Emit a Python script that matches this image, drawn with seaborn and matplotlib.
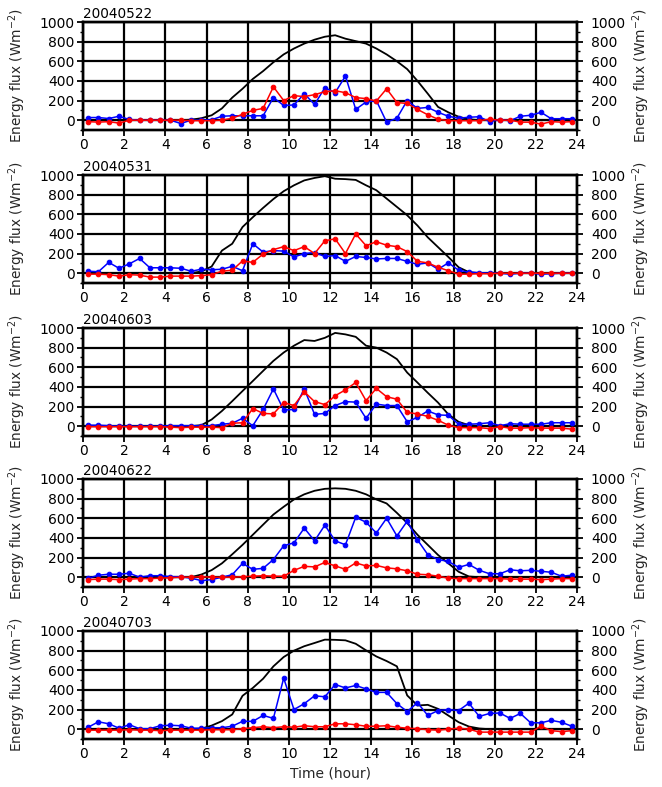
import numpy as np
import pandas as pd
import matplotlib
matplotlib.use('Agg')
import matplotlib.pyplot as plt
from matplotlib.ticker import MultipleLocator
import seaborn as sns

# half-hourly time stamps
hours = [0.25, 0.75, 1.25, 1.75, 2.25, 2.75, 3.25, 3.75, 4.25, 4.75, 5.25, 5.75,
         6.25, 6.75, 7.25, 7.75, 8.25, 8.75, 9.25, 9.75, 10.25, 10.75, 11.25, 11.75,
         12.25, 12.75, 13.25, 13.75, 14.25, 14.75, 15.25, 15.75, 16.25, 16.75, 17.25, 17.75,
         18.25, 18.75, 19.25, 19.75, 20.25, 20.75, 21.25, 21.75, 22.25, 22.75, 23.25, 23.75]

dates = ['20040522', '20040531', '20040603', '20040622', '20040703']

# black curve
black_0522 = [0, 0, 0, 0, 0, 0, 0, 0, 0, 0, 5, 20, 50, 120, 230, 320, 420, 500, 590, 670,
              730, 780, 820, 850, 865, 830, 805, 780, 730, 670, 600, 520, 400, 270, 135, 80,
              35, 10, 0, 0, 0, 0, 0, 0, 0, 0, 0, 0]
black_0531 = [0, 0, 0, 0, 0, 0, 0, 0, 0, 0, 0, 17, 68, 230, 300, 470, 570, 665, 755, 835,
              895, 945, 970, 988, 962, 958, 950, 895, 845, 760, 675, 590, 485, 365, 265, 165,
              60, 10, 0, 0, 0, 0, 0, 0, 0, 0, 0, 0]
black_0603 = [0, 0, 0, 0, 0, 0, 0, 0, 0, 0, 0, 10, 68, 155, 255, 358, 460, 563, 665, 750,
              820, 877, 868, 900, 950, 935, 910, 820, 800, 750, 683, 546, 444, 340, 240, 120,
              44, 10, 0, 0, 0, 0, 0, 0, 0, 0, 0, 0]
black_0622 = [0, 0, 0, 0, 0, 0, 0, 0, 0, 0, 0, 27, 72, 141, 233, 329, 432, 535, 638, 717,
              792, 844, 880, 900, 905, 900, 880, 844, 792, 751, 655, 552, 432, 329, 226, 141,
              55, 7, 0, 0, 0, 0, 0, 0, 0, 0, 0, 0]
black_0703 = [0, 0, 0, 0, 0, 0, 0, 0, 0, 0, 0, 5, 37, 82, 150, 340, 420, 514, 640, 735,
              800, 845, 878, 912, 910, 905, 870, 803, 741, 694, 640, 344, 241, 248, 207, 139,
              71, 27, 7, 0, 0, 0, 0, 0, 0, 0, 0, 0]

# blue series
blue_0522 = [27, 27, 17, 40, 7, 0, 0, 0, 0, -34, 0, 0, 5, 40, 45, 45, 45, 45, 230, 150,
             155, 270, 160, 330, 280, 450, 110, 185, 200, -20, 20, 200, 120, 130, 80, 40,
             20, 30, 35, -15, 5, -5, 40, 50, 80, 15, 15, 15]
blue_0531 = [20, 15, 110, 50, 95, 150, 55, 55, 55, 50, 20, 40, 35, 40, 70, 25, 300, 215, 230, 225,
             165, 200, 210, 170, 180, 120, 170, 160, 145, 150, 150, 120, 90, 105, 40, 105,
             30, 10, 5, 0, 0, -10, 0, 0, -10, -5, 0, 0]
blue_0603 = [10, 10, 5, 0, 0, 0, 0, 0, 5, 5, 5, 5, 5, 20, 30, 80, 5, 170, 380, 165,
             170, 380, 120, 130, 210, 250, 245, 80, 225, 210, 210, 45, 90, 155, 115, 110,
             20, 20, 25, 35, 5, 25, 20, 20, 20, 35, 35, 35]
blue_0622 = [-10, 20, 30, 30, 40, 0, 15, 15, 5, 5, -10, -35, -25, 0, 25, 140, 80, 90, 180, 320,
             350, 500, 370, 530, 370, 330, 610, 560, 450, 600, 420, 570, 380, 230, 180, 160,
             100, 130, 70, 35, 35, 75, 65, 70, 60, 50, 10, 20]
blue_0703 = [20, 75, 55, 10, 45, 5, 5, 35, 40, 35, 10, 10, 15, 15, 30, 80, 80, 140, 110, 520,
             200, 260, 340, 330, 455, 420, 445, 410, 375, 375, 260, 180, 270, 140, 190, 200,
             190, 265, 130, 160, 165, 110, 160, 65, 65, 90, 70, 30]

# red series
red_0522 = [-15, -20, -15, -30, 0, 0, 0, 0, 0, 0, -5, -5, -5, 0, 20, 60, 100, 120, 340, 200,
            250, 240, 260, 290, 300, 280, 230, 220, 195, 320, 180, 170, 110, 55, 10, -5,
            -5, -5, -5, 10, 0, 0, -20, -20, -40, -15, -20, -15]
red_0531 = [-10, -10, -15, -30, -15, -20, -40, -40, -30, -30, -30, -25, -15, 20, 30, 125, 110, 195, 240, 270,
            230, 270, 200, 330, 350, 200, 400, 280, 320, 285, 270, 220, 120, 105, 60, 25,
            -10, -10, -5, -5, 0, 0, 0, 0, 0, 0, 0, 0]
red_0603 = [-5, -5, -5, -5, -5, -5, -5, -5, -10, -15, -10, -10, -10, -15, 30, 35, 180, 130, 125, 240,
            210, 350, 250, 220, 310, 370, 445, 260, 385, 300, 275, 140, 125, 100, 60, 10,
            -15, -15, -15, -25, -5, -20, -20, -15, -20, -20, -20, -30]
red_0622 = [-25, -20, -20, -25, -20, -15, -15, -10, -5, 0, 0, 5, 0, 0, 0, 5, 10, 15, 10, 10,
            70, 110, 105, 150, 115, 80, 145, 115, 120, 95, 85, 65, 30, 25, 10, -10,
            -15, -15, -15, -15, -15, -20, -20, -20, -25, -20, -15, -15]
red_0703 = [-10, -10, -10, -10, -5, -10, -10, -15, -10, -10, -10, -10, -5, -5, -5, 5, 15, 25, 15, 25,
            20, 35, 25, 25, 55, 55, 45, 30, 30, 35, 20, 10, 5, -5, -10, 0,
            10, 0, -30, -30, -30, -30, -30, -30, 30, -15, -25, -15]

blacks = [black_0522, black_0531, black_0603, black_0622, black_0703]
blues = [blue_0522, blue_0531, blue_0603, blue_0622, blue_0703]
reds = [red_0522, red_0531, red_0603, red_0622, red_0703]

sns.set_theme(style='white', rc={'axes.edgecolor': 'black', 'xtick.color': 'black',
                                 'ytick.color': 'black', 'text.color': 'black'})
plt.rcParams['font.family'] = ['DejaVu Sans']

fig = plt.figure(figsize=(6.62, 7.87), dpi=100)

left, width, height = 83 / 662, 494 / 662, 108 / 787
tops = [22, 175, 328, 479, 631]
ylab = 'Energy flux (Wm$^{-2}$)'

for i in range(5):
    bottom = 1 - (tops[i] + 108) / 787
    ax = fig.add_axes([left, bottom, width, height])
    df = pd.DataFrame({'hour': hours, 'black': blacks[i], 'blue': blues[i], 'red': reds[i]})

    sns.lineplot(data=df, x='hour', y='black', color='black', lw=1.3, ax=ax)
    sns.lineplot(data=df, x='hour', y='blue', color='blue', lw=1.1, marker='o',
                 markersize=3.3, markeredgecolor='blue', ax=ax)
    sns.lineplot(data=df, x='hour', y='red', color='red', lw=1.1, marker='o',
                 markersize=3.3, markeredgecolor='red', ax=ax)

    ax.set_xlim(0, 24)
    ax.set_ylim(-100, 1000)
    ax.xaxis.set_major_locator(MultipleLocator(2))
    ax.yaxis.set_major_locator(MultipleLocator(200))
    ax.yaxis.set_minor_locator(MultipleLocator(100))
    ax.set_axisbelow(True)
    ax.grid(True, which='major', color='black', lw=1.6)
    for s in ax.spines.values():
        s.set_linewidth(1.7)
        s.set_color('black')

    ax.tick_params(which='major', direction='out', length=4, width=1.3, labelsize=10,
                   left=True, bottom=True, pad=2)
    ax.tick_params(which='minor', direction='out', length=2.5, width=1.0, left=True)
    ax.tick_params(axis='x', which='minor', bottom=False)

    ax.set_ylabel(ylab, fontsize=9.8)
    ax.yaxis.set_label_coords(-0.112, 0.5)
    if i == 4:
        ax.set_xlabel('Time (hour)', fontsize=10, labelpad=4)
    else:
        ax.set_xlabel('')

    ax.text(0, 1.005, dates[i], transform=ax.transAxes, ha='left', va='bottom', fontsize=9.8)

    # right-hand axis with the same scale
    ax2 = ax.twinx()
    ax2.set_ylim(-100, 1000)
    ax2.yaxis.set_major_locator(MultipleLocator(200))
    ax2.yaxis.set_minor_locator(MultipleLocator(100))
    ax2.tick_params(which='major', direction='out', length=4, width=1.3, labelsize=10,
                    right=True, pad=6)
    ax2.tick_params(which='minor', direction='out', length=2.5, width=1.0, right=True)
    for s in ax2.spines.values():
        s.set_linewidth(1.7)
    ax2.set_ylabel(ylab, fontsize=9.8, rotation=90)
    ax2.yaxis.set_label_coords(1.108, 0.5)

fig.savefig('out.png', dpi=100)
